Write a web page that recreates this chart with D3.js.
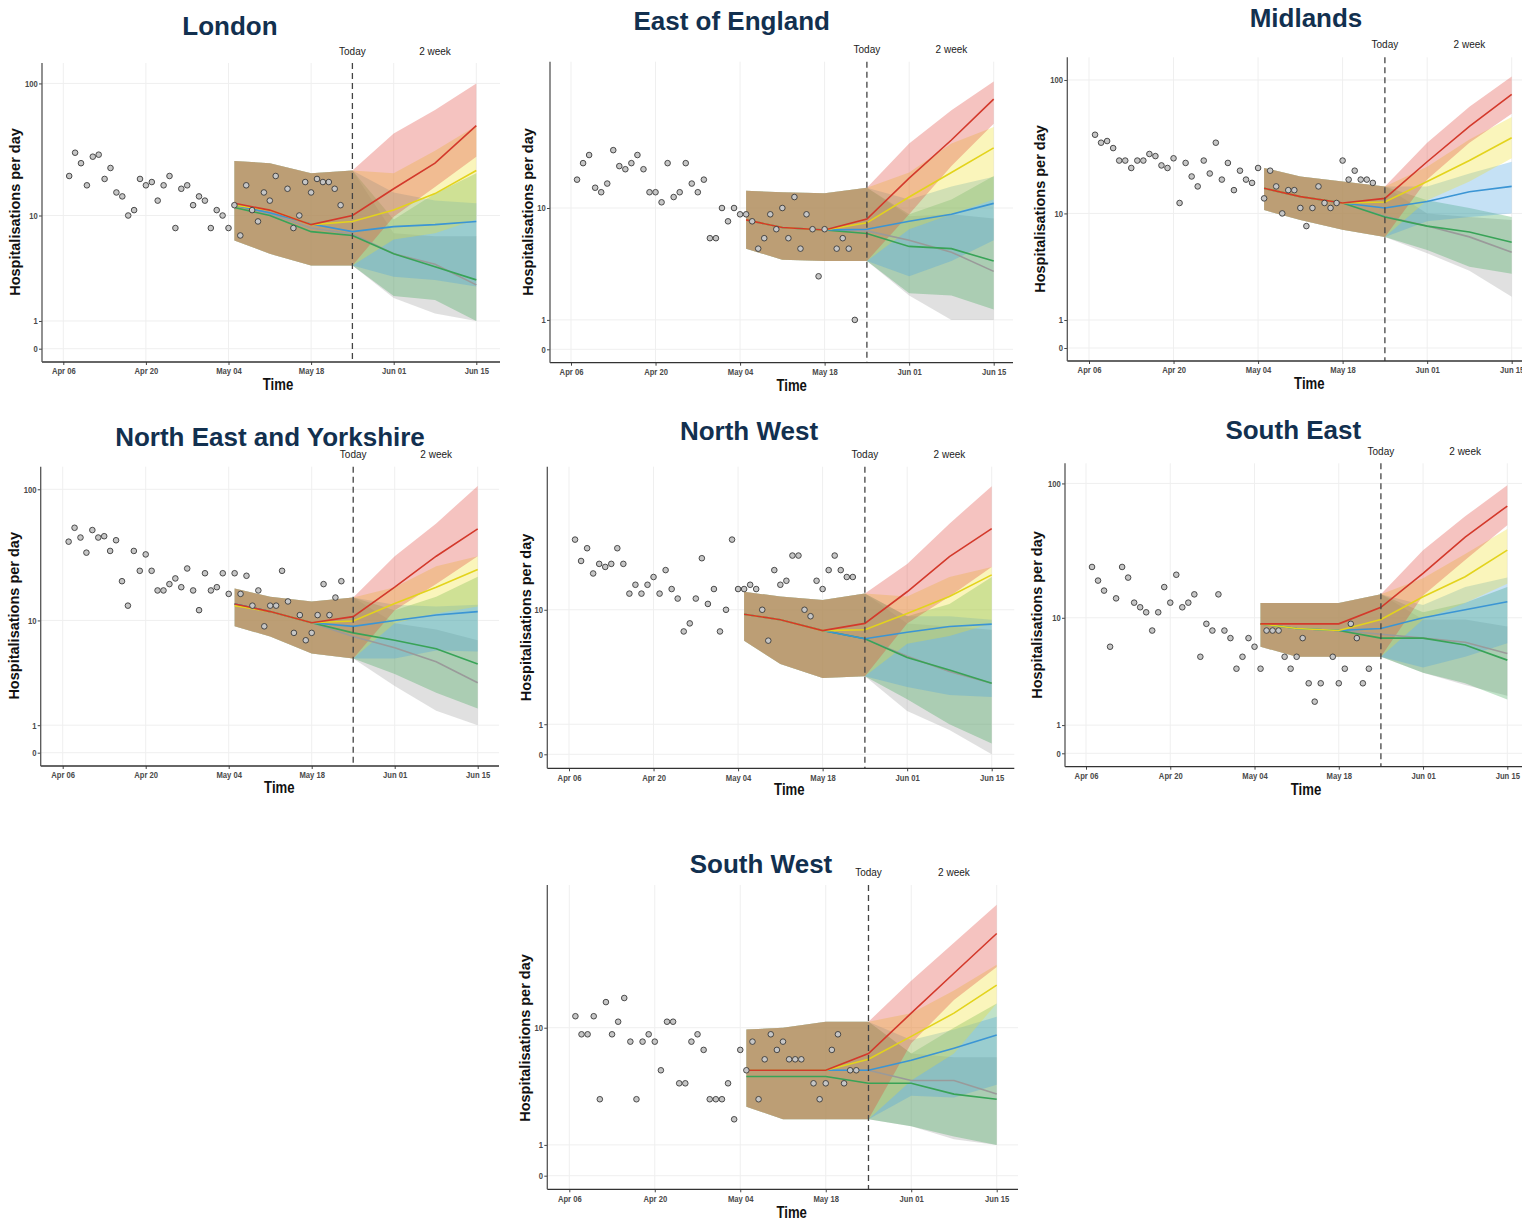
<!DOCTYPE html>
<html>
<head>
<meta charset="utf-8">
<script src="https://cdn.jsdelivr.net/npm/d3@7"></script>
<style>
  body { margin: 0; background: #fff; }
  text { font-family: "Liberation Sans", Arial, sans-serif; }
</style>
</head>
<body>
<svg id="chart" width="1522" height="1220"></svg>
<script>
// ---- dates ----
var APR6 = new Date(2020, 3, 6);
function day(n) { return d3.timeDay.offset(APR6, n); }
// fitted section (shared by all scenarios) then weekly projections
var fitDates = [day(29), day(35), day(42), day(49)];   // May 05, 11, 18, 25
var projDates = [day(56), day(63), day(70)];           // Jun 01, 08, 15
var todayDate = day(49);
var twoWeekDate = day(63);
var xTickDates = [day(0), day(14), day(28), day(42), day(56), day(70)];

// scenario order: grey, green, blue, yellow, red
var scenarios = ["grey", "green", "blue", "yellow", "red"];

// ---- London ----
var londonObs = [20,30,25,17,28,29,19,23,15,14,10,11,19,17,18,13,17,20,8,16,17,12,14,13,
                 8,11,10,8,12,7,17,11,9,15,13,20,null,16,8,10,18,15,19,18,18,16,12];
var londonFitLo = [6.4, 5, 4, 4];
var londonFitHi = [26, 25, 21, 22];
var londonMed = [[12,10.3,8,7.2,5,4.1,2.7],[11.5,10,7.5,7,5,3.9,3],[12,10.5,8.6,7.5,8.2,8.5,9],
                 [12,11,8.5,9,11,14.7,22],[12.4,11,8.5,10,16,25,48]];
var londonLo = [[2,1.3,1],[2.1,1.9,1],[3.2,3,2.6],[6.5,7.3,9.3],[9.8,16.5,28]];
var londonHi = [[7.3,6.9,6.9],[9.3,14.7,21],[15,13,12.4],[21,31,48],[42,63,100]];

// ---- East of England ----
var eastObs = [16,21,24,14,13,15,26,20,19,21,24,19,13,13,11,21,12,13,21,15,13,16,6,6,
               10,8,10,9,9,8,5,6,9,7,10,6,12,5,9,7,3,7,null,5,6,5,1];
var eastFitLo = [5, 4.1, 4, 4];
var eastFitHi = [13.3, 13, 12.8, 14];
var eastMed = [[8.2,7.2,6.9,6.8,5.8,4.7,3.3],[8.2,7.2,6.9,6.5,5.2,5,4],[8.2,7.2,6.9,7,8,9,10.8],
               [8.2,7.2,6.9,7.8,12,18,27],[8.2,7.2,6.9,8.3,16.4,30.7,60]];
var eastLo = [[2,1,1],[2.1,2,1.4],[3,4,5.8],[7,9,11.5],[9,20,40]];
var eastHi = [[8.7,9,8.4],[9,11.5,17],[11.5,14.3,16.8],[18,29,38],[29,50,80]];

// ---- Midlands ----
var midObs = [39,34,35,31,25,25,22,25,25,28,27,23,22,26,12,24,19,16,25,20,34,18,24,15,
              21,18,17,22,13,21,16,10,15,15,11,8,11,16,12,11,12,25,18,21,18,18,17];
var midFitLo = [10.6, 8.9, 7.5, 6.6];
var midFitHi = [22, 19, 17.4, 16];
var midMed = [[15.5,13.4,12,9.5,8,6.6,5],[15.5,13.4,12,9.4,8,7.2,6],[15.5,13.4,12,11,12.3,14.6,16],
              [15.5,13.4,12,12.2,17.4,25,37],[15.5,13.4,12,13,24.5,45,78]];
var midLo = [[4.9,3.5,2],[5.2,3.8,3.3],[8.7,9.4,10],[12.6,17.4,26],[18,34,56]];
var midHi = [[10,9.4,8.9],[12.6,11,9.4],[16,20,24.5],[22.5,36,53],[34,63,106]];

// ---- North East and Yorkshire ----
var neyObs = [40,51,43,33,49,43,44,34,41,20,13,34,24,32,24,17,17,19,21,18,25,17,12,23,
              17,18,23,16,23,16,22,13,17,9,13,13,24,14,8,11,7,8,11,19,11,15,20];
var neyFitLo = [9, 7.5, 5.5, 5];
var neyFitHi = [17.6, 15.2, 14, 15];
var neyMed = [[13.4,11.7,9.6,7.5,6.1,4.7,3.1],[13.4,11.7,9.6,8,7,6,4.5],[13.4,11.7,9.6,9,10,11,11.7],
              [13,11.7,9.6,9.9,13.5,18,24.6],[13.4,11.7,9.6,10.7,18,31,50]];
var neyLo = [[2.9,1.6,1],[3.7,2.5,1.7],[5,5.8,5.7],[9.5,11.3,12.8],[12,19,31]];
var neyHi = [[9.5,8.5,7],[12,15.2,21.6],[13.2,12.8,13.2],[18,26,31],[31,55,106]];

// ---- North West ----
var nwObs = [31,22,27,18,21,20,21,27,21,13,15,13,15,17,13,19,14,12,7,8,12,23,11,14,
             7,10,31,14,14,15,14,10,6,19,15,16,24,24,10,9,16,14,19,24,19,17,17];
var nwFitLo = [6, 4, 3.1, 3.2];
var nwFitHi = [13.4, 12.4, 11.7, 13];
var nwMed = [[9.3,8.5,7.1,6.2,4.6,3.5,2.8],[9.3,8.5,7.1,6.2,4.5,3.6,2.8],[9.3,8.5,7.1,6.2,6.9,7.6,7.9],
             [9.3,8.5,7.1,7.2,9.4,12.4,17.6],[9.3,8.5,7.1,8,13.4,23.6,37]];
var nwLo = [[1.5,0.8,0],[2,1,0.35],[2.6,2.2,2.1],[5.7,6.5,8],[8,12.4,20]];
var nwHi = [[8,7.6,7.2],[9,11,17],[9,9,8.5],[12.4,17,20],[21,40,73]];

// ---- South East ----
var seObs = [24,19,16,6,14,24,20,13,12,11,8,11,17,13,21,12,13,15,5,9,8,15,8,7,
             4,5,7,6,4,8,8,8,5,4,5,7,3,2,3,null,5,3,4,9,7,3,4];
var seFitLo = [6, 5, 5, 5];
var seFitHi = [12.9, 12.9, 12.9, 15];
var seMed = [[9,8.3,8,7.5,7,6.5,5.3],[9,8.3,8,7,7,6.2,4.7],[9,8.3,8,8.3,10,11.5,13.2],
             [9,8.3,8,9.7,14.4,20.3,32],[9,9,9,12,21.5,40,68]];
var seLo = [[3.7,2.9,2.3],[3.7,3,2.1],[4.1,5,6.4],[9.7,12.9,18],[14.7,27,49]];
var seHi = [[9.7,9.7,8.6],[11,13,17],[12.5,17,20],[19.8,30,46],[32,57,97]];

// ---- South West ----
var swObs = [12,9,9,12,3,15,9,11,16,8,3,8,9,8,5,11,11,4,4,8,9,7,3,3,
             3,4,2,7,5,8,3,6,9,7,8,6,6,6,null,4,3,4,7,9,4,5,5];
var swFitLo = [2.6, 2, 2, 2];
var swFitHi = [9.7, 10, 11, 11];
var swMed = [[5,5,5,5,4.2,4.2,3.3],[4.5,4.5,4.5,4,4,3.3,3],[5,5,5,5,5.9,7.2,8.9],
             [5,5,5,6,8.7,12.6,19.6],[5,5,5,6.6,12.6,23.6,44]];
var swLo = [[1.7,1.2,1],[1.7,1.3,1],[3.2,3.1,3.9],[4.2,6.6,14.7],[7.8,15.5,26]];
var swHi = [[6.6,6.2,6.2],[6.6,10,14.7],[8.2,9.7,11.9],[12.6,18,27],[21,38,69]];

// ---- layout of the seven panels ----
var panels = [
  { name: "London", obs: londonObs, fitLo: londonFitLo, fitHi: londonFitHi, med: londonMed, lo: londonLo, hi: londonHi,
    ticks: [0,1,10,100], left: 42, top: 63, right: 500, bottom: 362, xa: 63.3, xb: 476.3, y0: 348.7, unit: 57.6,
    titleX: 230, titleY: 35, labelY: 55, yTitleX: 15, yTitleY: 212, timeX: 278, timeY: 390 },
  { name: "East of England", obs: eastObs, fitLo: eastFitLo, fitHi: eastFitHi, med: eastMed, lo: eastLo, hi: eastHi,
    ticks: [0,1,10], left: 550, top: 61.7, right: 1013, bottom: 362.7, xa: 571, xb: 993.7, y0: 349.3, unit: 61.1,
    titleX: 731.7, titleY: 30, labelY: 53, yTitleX: 528, yTitleY: 212, timeX: 791.7, timeY: 390.7 },
  { name: "Midlands", obs: midObs, fitLo: midFitLo, fitHi: midFitHi, med: midMed, lo: midLo, hi: midHi,
    ticks: [0,1,10,100], left: 1067.3, top: 57.3, right: 1522, bottom: 361, xa: 1089, xb: 1511.7, y0: 348, unit: 58.2,
    titleX: 1306, titleY: 26.7, labelY: 48.3, yTitleX: 1040, yTitleY: 209, timeX: 1309.3, timeY: 389.3 },
  { name: "North East and Yorkshire", obs: neyObs, fitLo: neyFitLo, fitHi: neyFitHi, med: neyMed, lo: neyLo, hi: neyHi,
    ticks: [0,1,10,100], left: 40.7, top: 466.7, right: 499, bottom: 766, xa: 62.7, xb: 477.7, y0: 752.7, unit: 57.2,
    titleX: 270, titleY: 445.7, labelY: 458.3, yTitleX: 14, yTitleY: 615.8, timeX: 279.3, timeY: 793.3 },
  { name: "North West", obs: nwObs, fitLo: nwFitLo, fitHi: nwFitHi, med: nwMed, lo: nwLo, hi: nwHi,
    ticks: [0,1,10], left: 547.3, top: 466.7, right: 1014.3, bottom: 768.3, xa: 569, xb: 991.7, y0: 754.3, unit: 62.5,
    titleX: 749, titleY: 440, labelY: 457.7, yTitleX: 525.7, yTitleY: 617.5, timeX: 789.3, timeY: 795 },
  { name: "South East", obs: seObs, fitLo: seFitLo, fitHi: seFitHi, med: seMed, lo: seLo, hi: seHi,
    ticks: [0,1,10,100], left: 1065, top: 463.3, right: 1522, bottom: 766.7, xa: 1086, xb: 1507.3, y0: 753.3, unit: 58.6,
    titleX: 1293.3, titleY: 439.3, labelY: 455, yTitleX: 1037.3, yTitleY: 615, timeX: 1306, timeY: 795 },
  { name: "South West", obs: swObs, fitLo: swFitLo, fitHi: swFitHi, med: swMed, lo: swLo, hi: swHi,
    ticks: [0,1,10], left: 547.3, top: 885, right: 1018, bottom: 1189.3, xa: 569.3, xb: 996.7, y0: 1175.7, unit: 64,
    titleX: 761, titleY: 873.3, labelY: 876, yTitleX: 525, yTitleY: 1038, timeX: 791.7, timeY: 1217.7 }
];

// styles
var ribbonFill = { grey: "#a0a0a0", green: "#3aa655", blue: "#4aa3df", yellow: "#f0e12a", red: "#e0453a" };
var lineColor = { grey: "#9a9a9a", green: "#38a357", blue: "#3b95d4", yellow: "#e3d31c", red: "#d3392b" };

var svg = d3.select("#chart");
var fmt = d3.timeFormat("%b %d");
// pseudo-log transform used by the y axis (asinh(x/2))
function tr(v) { return Math.asinh(v / 2); }

panels.forEach(function (p) {
  var g = svg.append("g");

  var x = d3.scaleTime().domain([day(0), day(70)]).range([p.xa, p.xb]);
  var yLin = d3.scaleLinear().domain([0, tr(100)]).range([p.y0, p.y0 - p.unit * tr(100)]);
  var y = function (v) { return yLin(tr(v)); };

  // grid
  g.selectAll(null).data(xTickDates).join("line")
    .attr("x1", function (d) { return x(d); }).attr("x2", function (d) { return x(d); })
    .attr("y1", p.top).attr("y2", p.bottom)
    .attr("stroke", "#efefef").attr("stroke-width", 1);
  g.selectAll(null).data(p.ticks).join("line")
    .attr("x1", p.left).attr("x2", p.right)
    .attr("y1", function (d) { return y(d); }).attr("y2", function (d) { return y(d); })
    .attr("stroke", "#efefef").attr("stroke-width", 1);

  // scenario rows
  var allDates = fitDates.concat(projDates);
  var rows = scenarios.map(function (s, k) {
    return allDates.map(function (d, i) {
      return {
        date: d,
        med: p.med[k][i],
        lo: i < 4 ? p.fitLo[i] : p.lo[k][i - 4],
        hi: i < 4 ? p.fitHi[i] : p.hi[k][i - 4]
      };
    });
  });

  var area = d3.area()
    .x(function (d) { return x(d.date); })
    .y0(function (d) { return y(d.lo); })
    .y1(function (d) { return y(d.hi); });
  var line = d3.line()
    .x(function (d) { return x(d.date); })
    .y(function (d) { return y(d.med); });

  g.selectAll(null).data(rows).join("path")
    .attr("d", area)
    .attr("fill", function (d, k) { return ribbonFill[scenarios[k]]; })
    .attr("fill-opacity", 0.32);

  g.selectAll(null).data(rows).join("path")
    .attr("d", line)
    .attr("fill", "none")
    .attr("stroke", function (d, k) { return lineColor[scenarios[k]]; })
    .attr("stroke-width", 1.6);

  // observations
  var obs = p.obs.map(function (v, i) { return { date: day(i + 1), v: v }; })
    .filter(function (d) { return d.v !== null; });
  g.selectAll(null).data(obs).join("circle")
    .attr("cx", function (d) { return x(d.date); })
    .attr("cy", function (d) { return y(d.v); })
    .attr("r", 2.8)
    .attr("fill", "#c6c6c6")
    .attr("stroke", "#3a3a3a")
    .attr("stroke-width", 0.9);

  // today line and labels
  g.append("line")
    .attr("x1", x(todayDate)).attr("x2", x(todayDate))
    .attr("y1", p.top).attr("y2", p.bottom)
    .attr("stroke", "#444").attr("stroke-width", 1.3)
    .attr("stroke-dasharray", "6,4");
  g.append("text")
    .attr("x", x(todayDate)).attr("y", p.labelY)
    .attr("text-anchor", "middle").attr("font-size", 10).attr("fill", "#222")
    .text("Today");
  g.append("text")
    .attr("x", x(twoWeekDate)).attr("y", p.labelY)
    .attr("text-anchor", "middle").attr("font-size", 10).attr("fill", "#222")
    .text("2 week");

  // axes
  var xAxis = g.append("g")
    .attr("transform", "translate(0," + p.bottom + ")")
    .call(d3.axisBottom(x).tickValues(xTickDates).tickFormat(fmt).tickSize(3).tickPadding(3));
  xAxis.select(".domain").remove();
  xAxis.selectAll("line").attr("stroke", "#444");
  xAxis.selectAll("text")
    .attr("font-size", 9).attr("font-weight", "bold").attr("fill", "#4a4a4a")
    .attr("font-family", "Liberation Sans, Arial, sans-serif")
    .attr("transform", "scale(0.85,1)");

  var yAxis = g.append("g")
    .attr("transform", "translate(" + p.left + ",0)")
    .call(d3.axisLeft(yLin).tickValues(p.ticks.map(tr))
      .tickFormat(function (t) { return Math.round(2 * Math.sinh(t)); })
      .tickSize(3).tickPadding(2));
  yAxis.select(".domain").remove();
  yAxis.selectAll("line").attr("stroke", "#444");
  yAxis.selectAll("text")
    .attr("font-size", 9).attr("font-weight", "bold").attr("fill", "#4a4a4a")
    .attr("font-family", "Liberation Sans, Arial, sans-serif")
    .attr("transform", "scale(0.85,1)");

  g.append("line")
    .attr("x1", p.left).attr("x2", p.right).attr("y1", p.bottom).attr("y2", p.bottom)
    .attr("stroke", "#333").attr("stroke-width", 1.3);
  g.append("line")
    .attr("x1", p.left).attr("x2", p.left).attr("y1", p.top).attr("y2", p.bottom)
    .attr("stroke", "#555").attr("stroke-width", 1.3);

  // axis titles
  g.append("text")
    .attr("transform", "translate(" + p.timeX + "," + p.timeY + ") scale(0.82,1)")
    .attr("text-anchor", "middle").attr("font-size", 16).attr("font-weight", "bold")
    .attr("fill", "#111").text("Time");
  g.append("text")
    .attr("transform", "translate(" + (p.yTitleX + 5) + "," + p.yTitleY + ") rotate(-90)")
    .attr("text-anchor", "middle").attr("font-size", 14.5).attr("font-weight", "bold")
    .attr("fill", "#111").text("Hospitalisations per day");

  // panel title
  g.append("text")
    .attr("x", p.titleX).attr("y", p.titleY)
    .attr("text-anchor", "middle").attr("font-size", 26).attr("font-weight", "bold")
    .attr("fill", "#12304f").text(p.name);
});
</script>
</body>
</html>
